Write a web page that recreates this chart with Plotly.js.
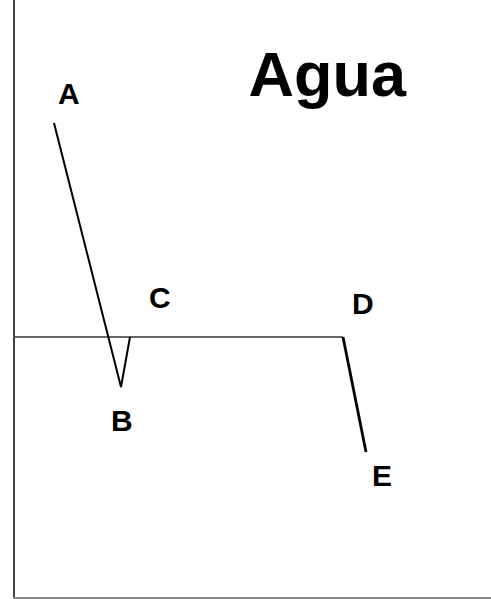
<!DOCTYPE html>
<html>
<head>
<meta charset="utf-8">
<script src="https://cdn.plot.ly/plotly-3.0.1.min.js"></script>
<style>
  html, body { margin: 0; padding: 0; background: #fff; }
  #chart { width: 491px; height: 599px; }
</style>
</head>
<body>
<div id="chart"></div>
<script>
// points of the water curve (x along the axis, y above/below the baseline)
var pointNames = ['A', 'B', 'C', 'D', 'E'];
var pointX = [39, 106, 115, 328, 351];
var pointY = [214, -50, 0, 0, -115];

// baseline that runs from the axis to D
var baseX = [0, 328];
var baseY = [0, 0];

var font = 'Liberation Sans, Arial, sans-serif';

var fall = {
  x: pointX.slice(0, 3),
  y: pointY.slice(0, 3),
  mode: 'lines',
  line: {color: '#000', width: 2},
  hoverinfo: 'none'
};

var base = {
  x: baseX,
  y: baseY,
  mode: 'lines',
  line: {color: '#333', width: 1.6},
  hoverinfo: 'none'
};

var drop = {
  x: pointX.slice(3),
  y: pointY.slice(3),
  mode: 'lines',
  line: {color: '#000', width: 2.8},
  hoverinfo: 'none'
};

// label offsets in pixels from each point
var offX = [15, 1, 30, 20, 16];
var offY = [-30, 33, -40, -34, 23];

var annotations = pointNames.map(function (name, i) {
  return {
    x: pointX[i], y: pointY[i],
    text: name,
    showarrow: true, arrowcolor: 'rgba(0,0,0,0)',
    ax: offX[i], ay: offY[i],
    font: {family: font, size: 30, color: '#000', weight: 'bold'}
  };
});

var layout = {
  width: 491,
  height: 599,
  margin: {l: 15, r: 0, t: 0, b: 2},
  paper_bgcolor: '#fff',
  plot_bgcolor: '#fff',
  showlegend: false,
  title: {
    text: 'Agua',
    font: {family: font, size: 63, color: '#000', weight: 'bold'},
    x: 0.656, xanchor: 'center', xref: 'paper',
    y: 0.877, yanchor: 'middle', yref: 'container'
  },
  xaxis: {
    range: [0, 476],
    showgrid: false, zeroline: false, showticklabels: false, ticks: '',
    showline: true, linecolor: '#888', linewidth: 2
  },
  yaxis: {
    range: [-260, 337],
    showgrid: false, zeroline: false, showticklabels: false, ticks: '',
    showline: true, linecolor: '#444', linewidth: 2.5
  },
  annotations: annotations
};

Plotly.newPlot('chart', [base, fall, drop], layout, {staticPlot: true});
</script>
</body>
</html>
